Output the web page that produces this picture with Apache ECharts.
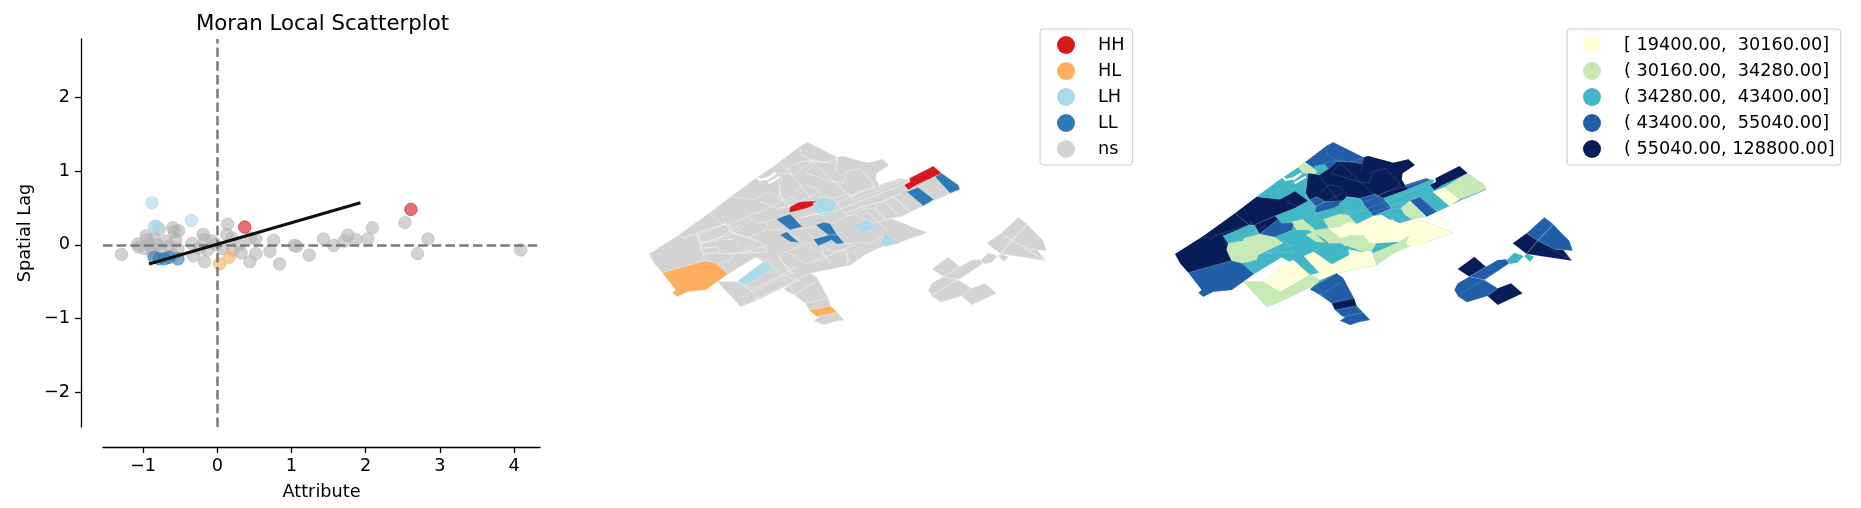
<!DOCTYPE html>
<html><head><meta charset="utf-8">
<style>html,body{margin:0;padding:0;background:#fff}#c{width:1861px;height:508px}</style>
<script src="https://cdn.jsdelivr.net/npm/echarts@6/dist/echarts.min.js"></script>
</head><body><div id="c"></div>
<script>
// ---- Moran scatter values: [attribute, spatial lag]
const nsPoints=[[-1.29,-.13],[-1.07,.01],[-1.06,-.03],[-.96,.12],[-.94,.07],[-.98,-.05],[-.92,0],[-.85,.09],[-.78,.21],[-.80,0],[-.76,-.07],[-.69,.05],[-.65,-.02],[-.60,.23],[-.58,.18],[-.52,.19],[-.56,.07],[-.53,-.05],[-.60,-.14],[-.87,-.11],[-.34,.02],[-.32,-.15],[-.24,-.05],[-.19,.14],[-.17,.07],[-.17,-.23],[-.13,-.07],[-.07,.05],[-.02,0],[.13,.14],[.14,.28],[.20,.09],[.07,-.05],[.21,-.07],[.30,0],[.32,-.11],[.45,.09],[.52,.08],[.44,-.23],[.52,-.12],[.71,-.09],[.76,.06],[.84,-.26],[1.04,-.01],[1.07,-.02],[1.24,-.14],[1.43,.08],[1.57,-.01],[1.71,.05],[1.76,.13],[1.87,.07],[2.03,.08],[2.09,.23],[2.53,.30],[2.84,.08],[2.70,-.12],[4.09,-.07]];
const hhPoints=[[.37,.24],[2.61,.48]];
const hlPoints=[[.03,-.26],[.16,-.17]];
const lhPoints=[[-.88,.57],[-.85,.25],[-.82,.25],[-.35,.33]];
const llPoints=[[-.85,-.17],[-.78,-.19],[-.71,-.19],[-.65,-.17],[-.53,-.19]];
const fitLine=[[-.92,-.26],[1.93,.57]];
const xTicks=[-1,0,1,2,3,4];
const yTicks=[-2,-1,0,1,2];
const moranNames=['HH','HL','LH','LL','ns'];
const moranColors=['#d7191c','#fdae61','#abd9e9','#2c7bb6','#d3d3d3'];
const binLabels=['[ 19400.00,  30160.00]','( 30160.00,  34280.00]','( 34280.00,  43400.00]','( 43400.00,  55040.00]','( 55040.00, 128800.00]'];
const binColors=['#ffffd9','#c7e9b4','#41b6c4','#225ea8','#081d58'];

// ---- Tract geometry in map units, with one Moran class and one income bin per tract
const tractShapes=[
[[45,372],[130,318],[225,250],[290,200],[358,150],[415,112],[435,97],[500,47],[520,37],[610,82],[625,78],[700,98],[745,88],[765,105],[728,130],[725,148],[735,165],[798,145],[823,150],[815,165],[898,108],[923,130],[973,165],[978,180],[905,210],[868,228],[800,260],[770,265],[880,308],[790,340],[745,350],[700,370],[650,405],[530,430],[550,445],[582,505],[590,528],[610,548],[630,570],[600,575],[570,585],[540,572],[555,562],[525,540],[515,520],[480,495],[450,478],[465,465],[360,515],[320,530],[250,455],[308,455],[388,395],[363,382],[282,432],[215,480],[160,485],[130,500],[115,488],[125,480],[85,428],[60,400]],
[[45,372],[130,318],[225,250],[268,285],[190,318],[205,340],[200,360],[215,392],[85,428],[60,400]],
[[225,250],[290,200],[360,208],[405,183],[445,212],[405,235],[345,258],[283,285],[268,285]],
[[290,200],[358,150],[415,112],[430,130],[445,130],[437,190],[445,212],[405,183],[360,208]],
[[435,97],[500,47],[520,37],[610,82],[605,102],[570,95],[530,95],[508,115],[478,130]],
[[415,112],[435,97],[478,125],[462,132],[430,130]],
[[462,108],[495,103],[508,122],[478,138],[470,125]],
[[445,130],[478,135],[508,115],[530,95],[570,95],[605,102],[610,82],[625,78],[700,98],[745,88],[765,105],[728,130],[725,148],[735,165],[745,178],[670,205],[645,192],[600,205],[560,200],[550,212],[495,215],[470,200],[450,210],[437,190]],
[[450,210],[470,200],[495,215],[488,218],[468,230]],
[[600,205],[645,192],[670,205],[695,235],[640,258],[615,228]],
[[735,165],[798,145],[810,150],[745,178]],
[[670,205],[745,178],[810,150],[823,150],[815,168],[825,182],[868,228],[830,245],[780,200],[750,212],[722,235],[695,235]],
[[810,165],[828,155],[826,145],[898,108],[923,130],[848,165],[823,180]],
[[818,185],[853,172],[900,208],[868,228]],
[[853,172],[903,140],[948,190],[900,208]],
[[903,140],[923,130],[973,165],[978,178],[948,190]],
[[750,212],[780,200],[830,245],[800,260]],
[[722,235],[750,212],[800,260],[770,265],[755,268],[735,255]],
[[640,258],[695,235],[722,235],[735,255],[755,268],[720,280],[690,270],[665,255]],
[[345,258],[405,235],[445,212],[465,228],[465,245],[473,247],[518,235],[555,220],[550,212],[560,200],[600,205],[615,228],[640,258],[590,282],[565,255],[540,252],[490,268],[505,295],[465,300],[440,265],[400,275],[365,280]],
[[465,245],[468,230],[488,218],[495,215],[553,212],[555,220],[518,235],[473,247]],
[[538,220],[563,200],[608,213],[603,245],[563,258],[538,235]],
[[490,268],[540,252],[565,255],[590,282],[505,295]],
[[283,285],[345,258],[355,268],[320,295],[298,312]],
[[298,312],[320,295],[355,268],[365,280],[400,278],[397,300],[345,322]],
[[190,318],[268,285],[283,285],[298,312],[252,325],[250,332],[205,340]],
[[205,340],[250,332],[252,325],[298,312],[345,322],[370,340],[295,375],[290,390],[245,400],[215,392],[200,360]],
[[370,340],[345,322],[397,300],[410,300],[445,300],[490,325],[508,340],[461,365],[432,378],[478,428],[450,435],[400,390],[365,382],[282,432],[260,400],[290,390],[295,375]],
[[85,428],[215,392],[245,400],[282,432],[250,455],[215,480],[160,485],[130,500],[115,488],[125,480]],
[[395,275],[440,265],[465,300],[505,295],[540,325],[575,315],[610,340],[650,340],[635,362],[600,362],[568,350],[540,340],[508,340],[490,325],[445,300],[410,300]],
[[505,295],[590,282],[640,258],[665,255],[690,270],[720,280],[770,265],[880,308],[790,340],[745,350],[745,318],[720,335],[650,340],[610,340],[575,315],[540,325]],
[[432,378],[461,365],[516,403],[568,375],[565,358],[600,365],[635,362],[637,370],[650,405],[530,430],[480,450],[450,435],[478,428]],
[[637,370],[720,335],[745,318],[745,350],[700,370],[650,405]],
[[308,455],[388,395],[400,390],[450,435],[360,487]],
[[250,455],[308,455],[360,487],[450,435],[480,450],[465,465],[360,515],[320,530]],
[[308,455],[388,395],[418,412],[338,465]],
[[656,285],[698,268],[726,292],[678,315],[673,298]],
[[753,310],[800,338],[753,350],[738,340]],
[[426,267],[468,252],[505,290],[468,300]],
[[438,315],[458,305],[496,338],[468,335]],
[[545,285],[568,277],[588,280],[610,315],[583,315],[563,300]],
[[538,328],[583,315],[610,315],[631,340],[608,342],[593,330],[553,348]],
[[450,478],[465,465],[530,430],[550,445],[582,505],[515,520],[480,495]],
[[515,520],[582,505],[590,528],[525,540]],
[[525,540],[590,528],[610,548],[548,560]],
[[548,560],[610,548],[630,570],[600,575],[570,585],[540,572],[555,562]],
[[893,417],[943,380],[978,410],[928,440]],
[[928,440],[978,410],[1013,390],[1038,388],[1048,400],[973,450]],
[[883,480],[893,460],[928,440],[973,450],[1013,475],[983,498],[921,517],[895,500]],
[[983,498],[1013,475],[1053,460],[1088,490],[1013,525]],
[[1040,390],[1063,368],[1092,378],[1072,398],[1050,402]],
[[1092,378],[1100,372],[1123,380],[1110,395]],
[[1100,310],[1153,262],[1180,283],[1133,332]],
[[1180,283],[1205,310],[1228,332],[1238,362],[1185,358],[1133,332]],
[[1058,340],[1100,310],[1133,332],[1100,372]],
[[1133,332],[1185,358],[1210,360],[1236,392],[1100,372]]
];
const bodyHole=[[461,365],[508,340],[568,375],[516,403]];
const tractMoran=['ns','ns','ns','ns','ns','ns','ns','ns','ns','ns','ns','ns','HH','LL','ns','LL','ns','ns','ns','ns','HH','LH','ns','ns','ns','ns','ns','ns','HL','ns','ns','ns','ns','ns','ns','LH','LH','LH','LL','LL','LL','LL','ns','ns','HL','ns','ns','ns','ns','ns','ns','ns','ns','ns','ns','ns'];
const tractBin=[2,4,4,2,3,1,2,4,3,3,3,2,4,0,1,1,3,1,2,2,3,2,1,4,3,2,1,2,3,1,0,0,1,0,1,0,0,0,2,1,0,1,3,4,3,3,4,3,3,4,2,2,3,3,4,4];

// ---- Street lines inside the tracts, same map units
const streetLines=[
[[498,55],[503,75],[538,95],[593,150],[643,195],[698,245],[758,300]],
[[438,100],[488,150],[518,190],[568,250]],
[[483,100],[538,90],[568,98],[613,85],[603,125]],
[[513,130],[538,105]],
[[518,130],[593,155],[628,160],[638,125],[678,115],[723,165]],
[[648,200],[723,165]],
[[483,185],[508,165],[538,170],[563,195]],
[[378,215],[428,235],[468,230],[548,190]],
[[608,220],[668,190],[798,150]],
[[613,240],[688,210],[818,160]],
[[628,250],[718,220],[748,215],[798,190]],
[[508,260],[613,240]],
[[753,215],[788,255]],[[778,200],[823,245]],
[[433,150],[438,200],[468,230]],
[[723,220],[738,250],[758,270]],
[[133,320],[153,325],[168,315],[188,310],[278,280]],
[[188,310],[198,340],[208,370]],
[[198,340],[253,325],[318,285]],
[[268,270],[288,305],[378,335],[403,365],[318,370]],
[[263,330],[298,328],[318,345]],
[[208,355],[248,350],[258,370],[208,370]],
[[258,370],[318,370],[403,345]],
[[208,370],[233,395]],
[[348,485],[488,410]],
[[358,510],[498,450]],
[[413,410],[458,455],[498,510]],
[[433,380],[488,450]],
[[333,463],[373,510]],
[[530,400],[650,350],[670,345]],
[[638,370],[640,405]],[[660,365],[675,395]],
[[560,360],[590,400]],
[[480,495],[545,455]],
[[895,495],[1005,430]],
[[1133,332],[1180,283]],[[1133,332],[1100,372]],[[1168,355],[1236,390]]
];
const lakeLines=[
[[358,132],[378,150],[400,145],[425,130]],
[[398,150],[423,130]],
[[403,160],[438,140]]
];

const geojson={type:'FeatureCollection',features:tractShapes.map((s,i)=>{
  const ring=[...s,s[0]];
  const rings=i===0?[ring,[...bodyHole,bodyHole[0]]]:[ring];
  return {type:'Feature',properties:{name:'T'+i},geometry:{type:'Polygon',coordinates:rings}};
})};
echarts.registerMap('tracts',geojson);

const FONT='"DejaVu Sans"';
const TICKPX=17.7;
const chart=echarts.init(document.getElementById('c'));
const identity={project:p=>p,unproject:p=>p};
const geoBase=(left,colors,edge,w)=>({
  map:'tracts',projection:identity,silent:true,roam:false,
  left,top:142.3,width:397.67,height:182.67,
  label:{show:false},
  itemStyle:{areaColor:'#d3d3d3',borderColor:edge,borderWidth:w},
  emphasis:{disabled:true},select:{disabled:true},
  regions:tractShapes.map((_,i)=>({name:'T'+i,itemStyle:{areaColor:colors(i),borderColor:edge,borderWidth:w}}))
});
const dots=(name,data,color,opacity)=>({
  type:'scatter',name,data,xAxisIndex:0,yAxisIndex:0,symbol:'circle',symbolSize:12.5,silent:true,
  itemStyle:{color,opacity,borderColor:color,borderWidth:1},z:3
});
const streets=(geoIndex,color)=>({
  type:'lines',coordinateSystem:'geo',geoIndex,polyline:true,silent:true,
  lineStyle:{color,width:.6,opacity:1,curveness:0},
  data:streetLines.map(coords=>({coords})),z:4
});
const lake=(geoIndex)=>({
  type:'lines',coordinateSystem:'geo',geoIndex,polyline:true,silent:true,
  lineStyle:{color:'#fff',width:2.2,opacity:1,curveness:0},
  data:lakeLines.map(coords=>({coords})),z:5
});
const fmt=v=>v<0?'\u2212'+Math.abs(v):String(v);
const legendBase={orient:'vertical',icon:'circle',itemWidth:18,itemHeight:18,itemGap:8,selectedMode:false,
  borderColor:'#ccc',borderWidth:1,borderRadius:3,backgroundColor:'rgba(255,255,255,.8)',
  textStyle:{fontFamily:FONT,fontSize:TICKPX,color:'#000',padding:[0,0,0,18]}};

chart.setOption({
  animation:false,backgroundColor:'#fff',
  title:{text:'Moran Local Scatterplot',left:317.5,top:9,textAlign:'center',
    textStyle:{fontFamily:FONT,fontSize:21.3,fontWeight:'normal',color:'#000'}},
  grid:{left:103,width:437,top:39,height:388,containLabel:false},
  xAxis:{type:'value',min:-1.54,max:4.35,position:'bottom',offset:20,name:'Attribute',nameLocation:'middle',nameGap:36,
    nameTextStyle:{fontFamily:FONT,fontSize:TICKPX,color:'#000'},
    axisLine:{show:true,onZero:false,lineStyle:{color:'#000',width:1.3}},
    axisTick:{show:true,length:6,customValues:xTicks,lineStyle:{color:'#000',width:1.3}},
    axisLabel:{show:true,customValues:xTicks,formatter:fmt,fontFamily:FONT,fontSize:TICKPX,color:'#000',margin:10},
    splitLine:{show:false}},
  yAxis:{type:'value',min:-2.47,max:2.79,position:'left',offset:22,name:'Spatial Lag',nameLocation:'middle',nameGap:47,
    nameTextStyle:{fontFamily:FONT,fontSize:TICKPX,color:'#000'},
    axisLine:{show:true,onZero:false,lineStyle:{color:'#000',width:1.3}},
    axisTick:{show:true,length:6,customValues:yTicks,lineStyle:{color:'#000',width:1.3}},
    axisLabel:{show:true,customValues:yTicks,formatter:fmt,fontFamily:FONT,fontSize:TICKPX,color:'#000',margin:11},
    splitLine:{show:false}},
  geo:[
    geoBase(649,i=>moranColors[moranNames.indexOf(tractMoran[i])],'rgba(255,255,255,.55)',.5),
    geoBase(1175,i=>binColors[tractBin[i]],'rgba(255,255,255,.2)',.5)
  ],
  legend:[
    {...legendBase,left:1040,top:29,padding:[7,8,7,17],
      data:moranNames.map((name,i)=>({name,itemStyle:{color:moranColors[i],opacity:1,borderWidth:0}}))},
    {...legendBase,left:1567,top:29,padding:[7,6,7,16],
      data:binLabels.map((name,i)=>({name,itemStyle:{color:binColors[i],opacity:1,borderWidth:0}}))}
  ],
  series:[
    dots('ns',nsPoints,'#b4b4b4',.6),
    dots('HH',hhPoints,moranColors[0],.62),
    dots('HL',hlPoints,moranColors[1],.62),
    dots('LH',lhPoints,moranColors[2],.62),
    dots('LL',llPoints,moranColors[3],.62),
    {type:'line',name:'fit',data:fitLine,symbol:'none',silent:true,z:6,lineStyle:{color:'#111',width:3.2},
      markLine:{silent:true,symbol:'none',animation:false,label:{show:false},
        lineStyle:{color:'#7a7a7a',width:2.5,type:[9.5,4.2]},
        data:[{xAxis:0},{yAxis:0}]}},
    streets(0,'rgba(255,255,255,.8)'),lake(0),
    streets(1,'rgba(255,255,255,.22)'),lake(1),
    ...binLabels.map((name,i)=>({type:'scatter',coordinateSystem:'geo',geoIndex:1,name,data:[],itemStyle:{color:binColors[i]}}))
  ]
});
</script></body></html>
